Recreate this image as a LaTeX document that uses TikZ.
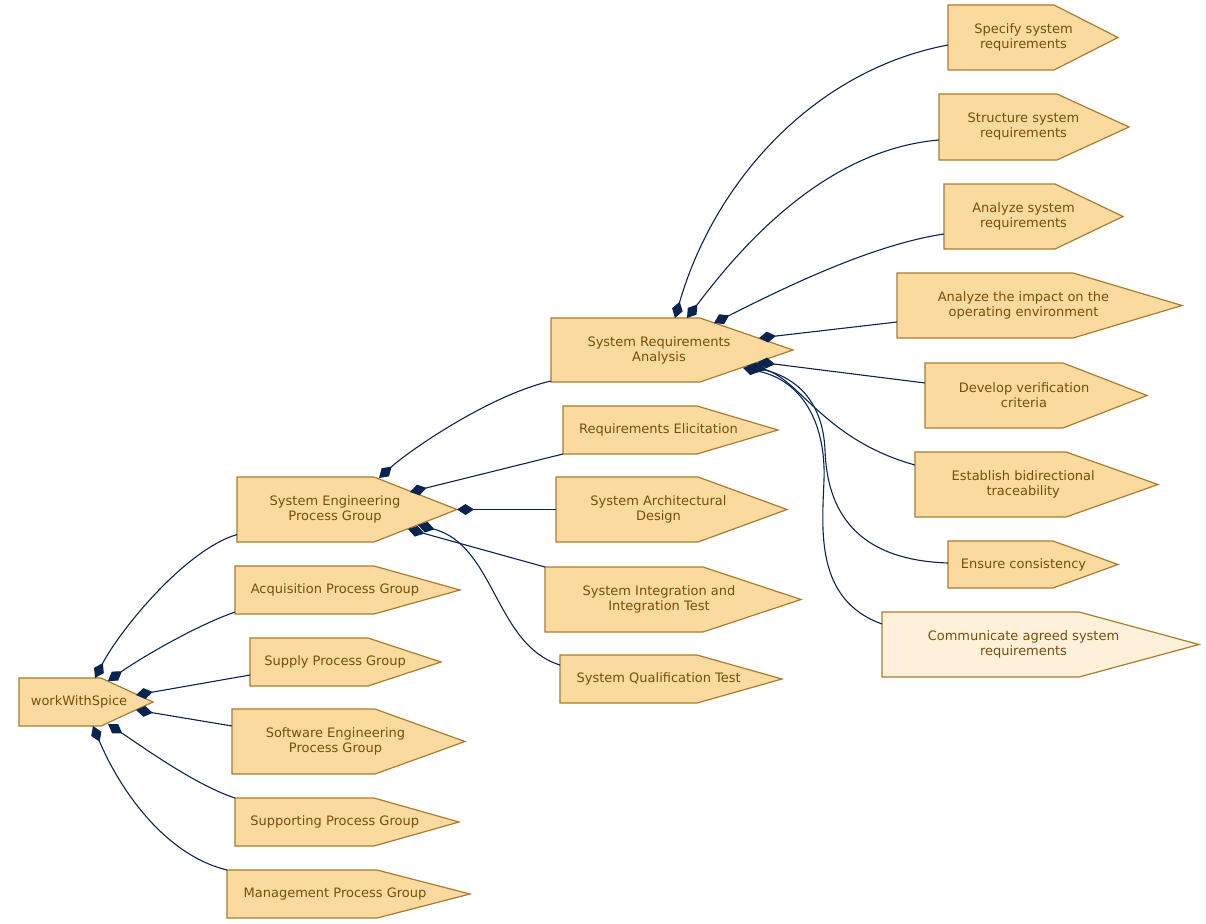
\documentclass[tikz,border=0pt]{standalone}
\usepackage{fontspec}
\setmainfont{DejaVu Sans}
\usetikzlibrary{arrows.meta,backgrounds}
\definecolor{pfill}{RGB}{251,218,159}
\definecolor{pfilllight}{RGB}{255,240,218}
\definecolor{pline}{RGB}{172,124,44}
\definecolor{ptextc}{RGB}{120,78,12}
\definecolor{plink}{RGB}{10,36,82}
\tikzset{
  proc/.style 2 args={rectangle, inner sep=0pt, outer sep=0pt, minimum width=#1pt, minimum height=#2pt},
  ptext/.style={text=ptextc, align=center, font=\fontsize{13}{15}\selectfont, inner sep=0pt},
  procline/.style={draw=pline, line width=1.2pt},
  part/.style={draw=plink, line width=1.1pt, {Diamond[length=17pt,width=11pt]}-}
}
\begin{document}
\begin{tikzpicture}[x=1pt, y=-1pt]
  \useasboundingbox (0,0) rectangle (1206,923);
  \begin{scope}[every label/.style={ptext}]
    \node[proc={134}{48}, label={[xshift=-7pt]center:workWithSpice}] (wws) at (86,702) {};
    \node[proc={220}{65}, label={[xshift=-12pt]center:System Engineering\\Process Group}] (sepg) at (347,509.5) {};
    \node[proc={225}{48}, label={[xshift=-12.5pt]center:Acquisition Process Group}] (acq) at (347.5,590) {};
    \node[proc={191}{48}, label={[xshift=-10.5pt]center:Supply Process Group}] (sup) at (345.5,662) {};
    \node[proc={233}{65}, label={[xshift=-13pt]center:Software Engineering\\Process Group}] (swe) at (348.5,741.5) {};
    \node[proc={224}{48}, label={[xshift=-12.3pt]center:Supporting Process Group}] (spg) at (347,822) {};
    \node[proc={243}{48}, label={[xshift=-13.5pt]center:Management Process Group}] (mpg) at (348.5,894) {};
    \node[proc={242}{64}, label={[xshift=-13pt]center:System Requirements\\Analysis}] (sra) at (672,350) {};
    \node[proc={215}{48}, label={[xshift=-12pt]center:Requirements Elicitation}] (rel) at (670.5,430) {};
    \node[proc={231}{65}, label={[xshift=-13pt]center:System Architectural\\Design}] (sad) at (671.5,509.5) {};
    \node[proc={256}{65}, label={[xshift=-14pt]center:System Integration and\\Integration Test}] (siit) at (673,599.5) {};
    \node[proc={222}{48}, label={[xshift=-12.3pt]center:System Qualification Test}] (sqt) at (671,679) {};
    \node[proc={170}{65}, label={[xshift=-9.5pt]center:Specify system\\requirements}] (ssr) at (1033,37.5) {};
    \node[proc={190}{66}, label={[xshift=-10.5pt]center:Structure system\\requirements}] (str) at (1034,127) {};
    \node[proc={179}{65}, label={[xshift=-10pt]center:Analyze system\\requirements}] (asr) at (1033.5,216.5) {};
    \node[proc={285}{65}, label={[xshift=-16pt]center:Analyze the impact on the\\operating environment}] (aio) at (1039.5,305.5) {};
    \node[proc={222}{65}, label={[xshift=-12pt]center:Develop verification\\criteria}] (dvc) at (1036,395.5) {};
    \node[proc={243}{65}, label={[xshift=-13.3pt]center:Establish bidirectional\\traceability}] (ebt) at (1036.5,484.5) {};
    \node[proc={170}{47}, label={[xshift=-9.5pt]center:Ensure consistency}] (ecs) at (1033,564.5) {};
    \node[proc={317}{65}, label={[xshift=-17pt]center:Communicate agreed system\\requirements}] (cas) at (1040.5,644.5) {};
  \end{scope}
  % process outlines behind the texts
  \begin{scope}[on background layer]
    \foreach \n/\b/\c in {wws/82/pfill, sepg/137/pfill, acq/139/pfill, sup/118/pfill,
        swe/143/pfill, spg/139/pfill, mpg/150/pfill, sra/149/pfill, rel/134/pfill,
        sad/142/pfill, siit/158/pfill, sqt/137/pfill, ssr/106/pfill, str/118/pfill,
        asr/111/pfill, aio/176/pfill, dvc/138/pfill, ebt/151/pfill, ecs/105/pfill,
        cas/197/pfilllight}
      \draw[procline, fill=\c] (\n.north west) -- ++(\b,0) -- (\n.east)
        -- ([xshift=\b pt]\n.south west) -- (\n.south west) -- cycle;
  \end{scope}
  % workWithSpice
  \draw[part] ([shift={(9,-24)}]wws.center) .. controls (120,630) and (185,550) .. ([shift={(0,25)}]sepg.west);
  \draw[part] ([shift={(22,-21)}]wws.center) .. controls (135,662) and (190,628) .. ([shift={(0,22)}]acq.west);
  \draw[part] ([shift={(50,-7)}]wws.center) -- ([shift={(0,13)}]sup.west);
  \draw[part] ([shift={(50,8)}]wws.center) -- ([shift={(0,-15.5)}]swe.west);
  \draw[part] ([shift={(22,22)}]wws.center) .. controls (140,745) and (195,785) .. (spg.north west);
  \draw[part] ([shift={(7,24)}]wws.center) .. controls (120,790) and (165,855) .. (mpg.north west);
  % System Engineering Process Group
  \draw[part] ([shift={(32,-31.5)}]sepg.center) .. controls (410,450) and (490,395) .. ([shift={(0,31)}]sra.west);
  \draw[part] ([shift={(63,-17.5)}]sepg.center) -- (rel.south west);
  \draw[part] (sepg.east) -- (sad.west);
  \draw[part] ([shift={(61,19.5)}]sepg.center) -- (siit.north west);
  \draw[part] ([shift={(71,15.5)}]sepg.center) .. controls (495,545) and (495,645) .. ([shift={(0,-14)}]sqt.west);
  % System Requirements Analysis
  \draw[part] ([shift={(3,-32)}]sra.center) .. controls (715,180) and (815,70) .. ([shift={(0,7.5)}]ssr.west);
  \draw[part] ([shift={(15,-32)}]sra.center) .. controls (735,255) and (820,150) .. ([shift={(0,13)}]str.west);
  \draw[part] ([shift={(42,-27)}]sra.center) .. controls (780,290) and (870,245) .. ([shift={(0,17.5)}]asr.west);
  \draw[part] ([shift={(87,-12)}]sra.center) -- ([shift={(0,16.5)}]aio.west);
  \draw[part] ([shift={(86,12)}]sra.center) -- ([shift={(0,-12.5)}]dvc.west);
  \draw[part] ([shift={(78,15)}]sra.center) .. controls (800,380) and (825,440) .. ([shift={(0,-19.5)}]ebt.west);
  \draw[part] ([shift={(75,16)}]sra.center) .. controls (800,378) and (823,405) .. (825,450)
    .. controls (827,510) and (855,560) .. ([shift={(0,-1.5)}]ecs.west);
  \draw[part] ([shift={(71,18)}]sra.center) .. controls (800,380) and (826,420) .. (824,480)
    .. controls (822,530) and (815,600) .. ([shift={(0,-20.5)}]cas.west);
\end{tikzpicture}
\end{document}
